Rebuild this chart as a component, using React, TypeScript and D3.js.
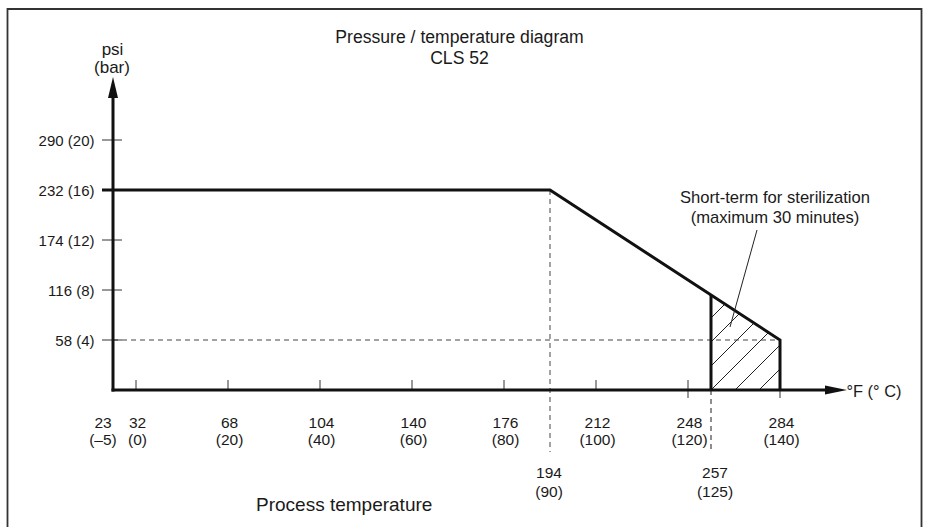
import React from "react";
import * as d3 from "d3";

const tempC = [0, 20, 40, 60, 80, 100, 120, 140];
const tempF = [32, 68, 104, 140, 176, 212, 248, 284];
const psiTicks = [58, 116, 174, 232, 290];
const barTicks = [4, 8, 12, 16, 20];
const curveC = [-5, 90, 140, 140];
const curvePsi = [232, 232, 58, 0];
const markC = [90, 125];
const markF = [194, 257];
const sterileStartC = 125;
const sterileEndC = 140;
const refPsi = 58;

const W = 927;
const H = 527;
const font = "'Liberation Sans', Arial, sans-serif";
const ink = "#1a1a1a";

export default function App() {
  const x = d3.scaleLinear().domain([-5, 140]).range([113, 780]);
  const y = d3.scaleLinear().domain([0, 290]).range([390, 140]);
  const slope = (curvePsi[1] - curvePsi[2]) / (curveC[2] - curveC[1]);
  const psiAt = (c: number) => curvePsi[1] - (c - curveC[1]) * slope;

  const curve = curveC.map((c, i) => [x(c), y(curvePsi[i])] as [number, number]);
  const line = d3.line();
  const region: [number, number][] = [
    [x(sterileStartC), y(0)],
    [x(sterileStartC), y(psiAt(sterileStartC))],
    [x(sterileEndC), y(refPsi)],
    [x(sterileEndC), y(0)],
  ];
  const x0 = x(sterileStartC);
  const hatch = d3.range(-6, 6).map((k) => x0 + k * 24);

  return (
    <svg width={W} height={H} style={{ position: "absolute", left: 0, top: 0, background: "#fff" }} fontFamily={font}>
      <defs>
        <clipPath id="hclip">
          <path d={line(region) + "Z"} />
        </clipPath>
      </defs>
      {/* frame */}
      <path d={`M7.5,${H} V9 H921.5 V${H}`} fill="none" stroke="#333" strokeWidth={1.8} />

      {/* title */}
      <text x={459.5} y={42.5} textAnchor="middle" fontSize={17.6} fill={ink}>Pressure / temperature diagram</text>
      <text x={459.5} y={64} textAnchor="middle" fontSize={17.6} fill={ink}>CLS 52</text>

      {/* hatch */}
      <g clipPath="url(#hclip)">
        {hatch.map((hx, i) => (
          <line key={i} x1={hx} y1={y(0)} x2={hx + 120} y2={y(0) - 120} stroke="#222" strokeWidth={1} />
        ))}
      </g>

      {/* dashed references */}
      <line x1={x(-5)} x2={x(sterileEndC)} y1={y(refPsi)} y2={y(refPsi)} stroke="#444" strokeWidth={1} strokeDasharray="5,4" />
      <line x1={x(markC[0])} x2={x(markC[0])} y1={y(232)} y2={452} stroke="#666" strokeWidth={1.2} strokeDasharray="5,4" />
      <line x1={x(markC[1])} x2={x(markC[1])} y1={y(0)} y2={449} stroke="#444" strokeWidth={1.2} strokeDasharray="5,4" />

      {/* x ticks */}
      {tempC.map((c, i) => (
        <g key={c}>
          <line x1={x(c)} x2={x(c)} y1={y(0) - 10} y2={c === 120 || c === 140 ? y(0) + 8 : y(0)} stroke="#333" strokeWidth={1} />
          <text x={x(c) + 1.5} y={427.5} textAnchor="middle" fontSize={15.5} fill={ink}>{tempF[i]}</text>
          <text x={x(c) + 1.5} y={445} textAnchor="middle" fontSize={15.5} fill={ink}>({c})</text>
        </g>
      ))}
      <text x={103} y={427.5} textAnchor="middle" fontSize={15.5} fill={ink}>23</text>
      <text x={103} y={445} textAnchor="middle" fontSize={15.5} fill={ink}>(–5)</text>
      {markC.map((c, i) => (
        <g key={"m" + c}>
          <text x={x(c) - (i === 0 ? 1 : -4)} y={477.5} textAnchor="middle" fontSize={15.5} fill={ink}>{markF[i]}</text>
          <text x={x(c) - (i === 0 ? 1 : -4)} y={496.5} textAnchor="middle" fontSize={15.5} fill={ink}>({c})</text>
        </g>
      ))}

      {/* y ticks */}
      {psiTicks.map((p, i) => (
        <g key={p}>
          <line x1={102} x2={122} y1={y(p)} y2={y(p)} stroke="#333" strokeWidth={1} />
          <text x={94.5} y={y(p) + 5.5} textAnchor="end" fontSize={15} fill={ink}>{p} ({barTicks[i]})</text>
        </g>
      ))}

      {/* axes */}
      <line x1={x(-5)} x2={x(-5)} y1={y(0) + 1.5} y2={96} stroke="#111" strokeWidth={3} />
      <path d={`M${x(-5)},77 L${x(-5) - 5},98 L${x(-5) + 5},98 Z`} fill="#111" />
      <line x1={x(-5) - 1.5} x2={826} y1={y(0)} y2={y(0)} stroke="#111" strokeWidth={3} />
      <path d={`M847,${y(0)} L825,${y(0) - 4.5} L825,${y(0) + 4.5} Z`} fill="#111" />
      <text x={112.5} y={55} textAnchor="middle" fontSize={17} fill={ink}>psi</text>
      <text x={112} y={73} textAnchor="middle" fontSize={17} fill={ink}>(bar)</text>
      <text x={846.5} y={396.5} fontSize={16.4} fill={ink}>°F (° C)</text>

      {/* curve */}
      <path d={line([[102, y(232)], ...curve]) || ""} fill="none" stroke="#111" strokeWidth={3} strokeLinejoin="miter" />
      <line x1={x0} x2={x0} y1={y(psiAt(sterileStartC))} y2={y(0)} stroke="#111" strokeWidth={3} />

      {/* annotation */}
      <text x={775} y={203} textAnchor="middle" fontSize={16.6} fill={ink}>Short-term for sterilization</text>
      <text x={775} y={223} textAnchor="middle" fontSize={16.6} fill={ink}>(maximum 30 minutes)</text>
      <line x1={757} y1={230} x2={730} y2={327} stroke="#222" strokeWidth={1} />

      <text x={256} y={510.5} fontSize={19} fill={ink}>Process temperature</text>
    </svg>
  );
}
